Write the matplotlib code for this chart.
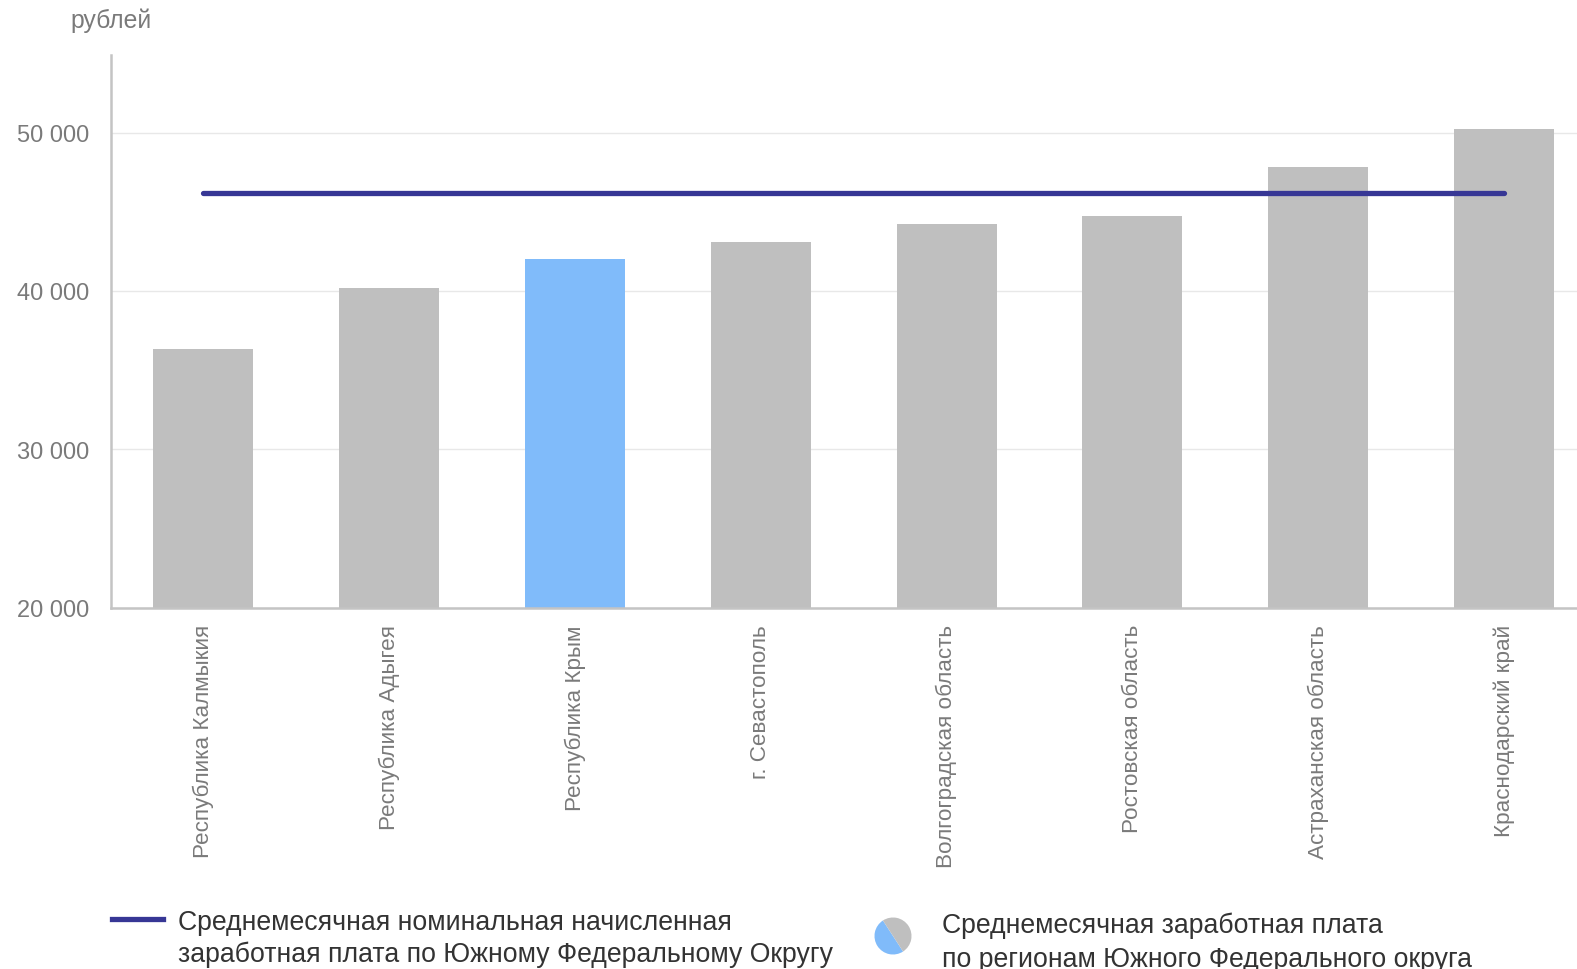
import matplotlib
matplotlib.use("Agg")
import matplotlib.pyplot as plt
from matplotlib.lines import Line2D

plt.rcParams['font.family'] = ['Liberation Sans', 'DejaVu Sans']

categories = ["Республика Калмыкия", "Республика Адыгея", "Республика Крым",
              "г. Севастополь", "Волгоградская область", "Ростовская область",
              "Астраханская область", "Краснодарский край"]
values = [36300, 40200, 42000, 43100, 44200, 44700, 47800, 50200]
district_avg = 46200
highlight = "Республика Крым"
yticks = [20000, 30000, 40000, 50000]
ytick_labels = ["20 000", "30 000", "40 000", "50 000"]
legend_line = ["Среднемесячная номинальная начисленная",
               "заработная плата по Южному Федеральному Округу"]
legend_bars = ["Среднемесячная заработная плата",
               "по регионам Южного Федерального округа"]
y_unit = "рублей"

GREY = "#bfbfbf"
BLUE = "#80bbfa"
NAVY = "#373795"
TXT = "#7a7a7a"
DARK = "#333333"

W, H = 1577, 970
fig = plt.figure(figsize=(W / 100, H / 100), dpi=100)
ax_left, ax_right, ax_bottom, ax_top = 110.5, 1597, 608.5, 56
ax = fig.add_axes([ax_left / W, 1 - ax_bottom / H, (ax_right - ax_left) / W,
                   (ax_bottom - ax_top) / H])

x = list(range(len(categories)))
colors = [BLUE if c == highlight else GREY for c in categories]
ax.bar(x, values, width=0.538, color=colors, zorder=2)
ax.plot([x[0], x[-1]], [district_avg, district_avg], color=NAVY, lw=3.8,
        solid_capstyle='round', zorder=3)

ax.set_xlim(-0.5, len(categories) - 0.5)
ax.set_ylim(20000, 54900)
ax.set_yticks(yticks)
ax.set_yticklabels(ytick_labels, fontsize=17, color=TXT)
ax.set_xticks(x)
ax.set_xticklabels(categories, rotation=90, fontsize=16.2, color=TXT, va='top')
ax.tick_params(axis='both', length=0)
ax.tick_params(axis='y', pad=15)
ax.tick_params(axis='x', pad=12)
ax.grid(axis='y', color="#e8e8e8", lw=1, zorder=0)
ax.set_axisbelow(True)
for s in ['top', 'right']:
    ax.spines[s].set_visible(False)
for s in ['left', 'bottom']:
    ax.spines[s].set_color("#c4c4c4")
    ax.spines[s].set_linewidth(1.8)

fig.text(70 / W, 1 - 21 / H, y_unit, fontsize=17.8, color=TXT, va='center', ha='left')

# legend: line item
fig.add_artist(Line2D([112 / W, 163 / W], [1 - 920 / H, 1 - 920 / H], color=NAVY, lw=3.8))
for txt, base in zip(legend_line, [930, 962]):
    fig.text(178 / W, 1 - base / H, txt, fontsize=19.2, color=DARK,
             va='baseline', ha='left')

# legend: bar item (pie icon)
r = 18.5
pax = fig.add_axes([(893 - r) / W, 1 - (937 + r) / H, 2 * r / W, 2 * r / H])
pax.pie([50, 50], colors=[BLUE, GREY], startangle=123, counterclock=True, radius=1)
pax.set_xlim(-1, 1)
pax.set_ylim(-1, 1)
pax.set_aspect('auto')
pax.axis('off')
for txt, base in zip(legend_bars, [933, 967]):
    fig.text(942 / W, 1 - base / H, txt, fontsize=19.2, color=DARK,
             va='baseline', ha='left')

fig.savefig("out.png", dpi=100)
